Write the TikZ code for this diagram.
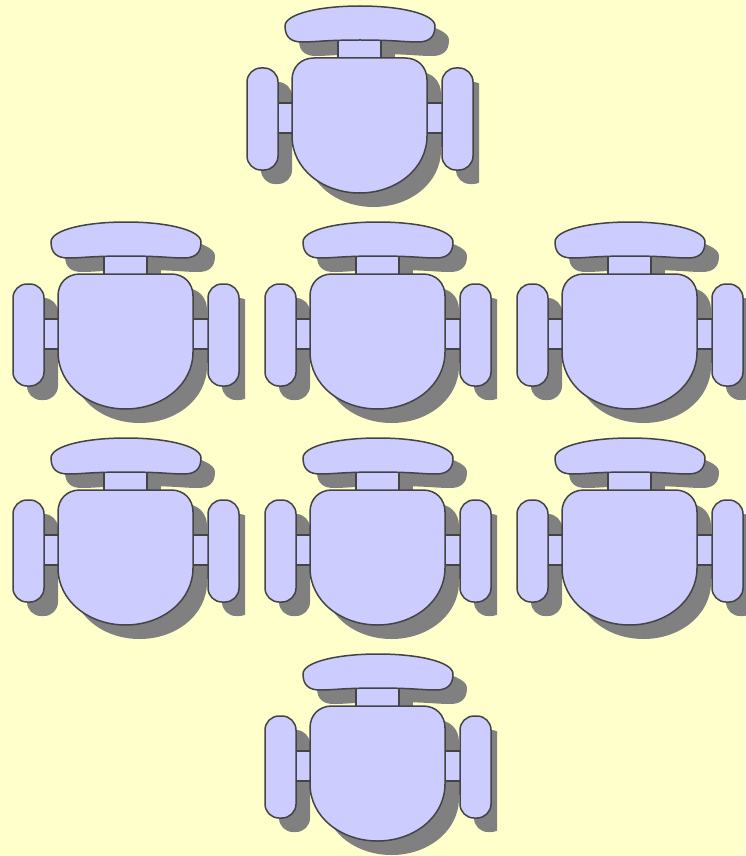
\documentclass[tikz,border=0pt]{standalone}
\usepackage{xcolor}
\definecolor{paper}{HTML}{FFFFCC}
\definecolor{chairblue}{HTML}{CCCCFF}
\definecolor{chairedge}{HTML}{444444}
\definecolor{chairshade}{HTML}{808080}
\newcommand{\chairparts}[1]{
    \path[#1] (104,250) rectangle (147,280);
    \path[#1] (38,319) rectangle (64,349);
    \path[#1] (187,319) rectangle (214,349);
    \path[#1,rounded corners=14pt] (13,284) rectangle (44,386);
    \path[#1,rounded corners=14pt] (208,284) rectangle (239,386);
    \path[#1] (51,242) .. controls (51,230) and (85,222) .. (126,222)
        .. controls (167,222) and (201,230) .. (201,242)
        .. controls (201,254) and (194,258) .. (184,258)
        .. controls (170,258) and (160,256) .. (126,256)
        .. controls (92,256) and (82,258) .. (68,258)
        .. controls (58,258) and (51,254) .. (51,242) -- cycle;
    \path[#1] (58,296) .. controls (58,283) and (67,274) .. (80,274)
        -- (171,274) .. controls (184,274) and (193,283) .. (193,296)
        -- (193,352) .. controls (193,385) and (162,409) .. (125.5,409)
        .. controls (89,409) and (58,385) .. (58,352) -- cycle;
}
\tikzset{
    chairpart/.style={draw=chairedge,line width=1.5pt,fill=chairblue},
    shadepart/.style={fill=chairshade},
    chair/.pic={
        \clip (0,205) rectangle (245,430);
        \begin{scope}[shift={(14,14)}]
            \chairparts{shadepart}
        \end{scope}
        \chairparts{chairpart}
    },
}
\begin{document}
\begin{tikzpicture}[x=1pt,y=-1pt]
    \useasboundingbox[fill=paper] (0,0) rectangle (745,856);
    % top chair, two rows of three, bottom chair
    \pic (chairtop) at (234,-216) {chair};
    \foreach \row in {0,216}
        \foreach \col in {0,252,504}
            \pic (chair\row-\col) at (\col,\row) {chair};
    \pic (chairbottom) at (252,432) {chair};
\end{tikzpicture}
\end{document}
